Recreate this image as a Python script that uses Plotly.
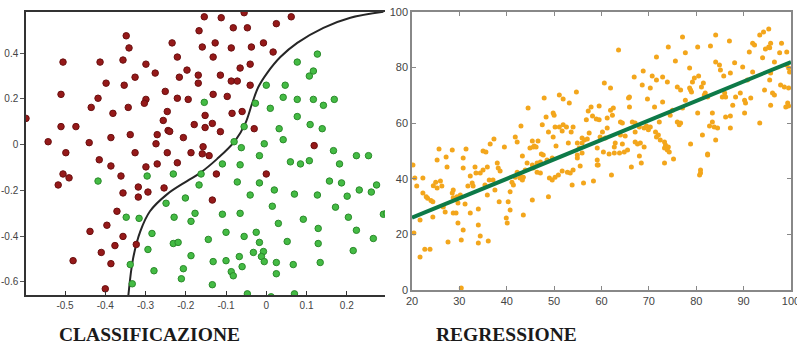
import plotly.graph_objects as go

# ---------------- Classification data ----------------
red_x = [-0.348,-0.341,-0.234,-0.167,-0.505,-0.413,-0.356,-0.299,-0.221,-0.197,-0.276,-0.326,-0.216,-0.169,-0.398,-0.353,-0.169,-0.510,-0.251,-0.418,-0.299,-0.303,-0.221,-0.194,-0.435,-0.343,-0.381,-0.246,-0.597,-0.256,-0.510,-0.473,-0.179,-0.244,-0.240,-0.386,-0.338,-0.271,-0.206,-0.542,-0.440,-0.274,-0.498,-0.326,-0.246,-0.187,-0.415,
         -0.386,-0.299,-0.271,-0.221,-0.505,-0.490,-0.517,-0.361,-0.318,-0.254,-0.356,-0.294,-0.318,-0.371,-0.396,-0.438,-0.356,-0.323,-0.376,-0.410,-0.480,-0.386,-0.400,
         -0.154,-0.112,-0.055,0.062,-0.082,-0.047,0.025,-0.127,-0.007,-0.159,-0.087,-0.037,0.017,-0.132,-0.040,-0.065,-0.114,-0.087,-0.072,-0.040,-0.132,-0.097,-0.085,-0.060,-0.152,-0.134,-0.152,-0.114,-0.030,-0.157,0.119,-0.159,-0.142,
         -0.124,0.000,-0.134]
red_y = [0.476,0.423,0.445,0.498,0.361,0.361,0.370,0.352,0.383,0.326,0.313,0.295,0.295,0.304,0.269,0.260,0.269,0.220,0.233,0.203,0.198,0.181,0.203,0.198,0.163,0.163,0.137,0.145,0.115,0.106,0.079,0.079,0.088,0.062,0.058,0.031,0.044,0.044,0.031,0.013,0.009,0.004,-0.035,-0.035,-0.035,-0.035,-0.066,
         -0.093,-0.097,-0.084,-0.079,-0.128,-0.145,-0.176,-0.137,-0.185,-0.189,-0.211,-0.207,-0.229,-0.291,-0.352,-0.379,-0.401,-0.436,-0.441,-0.471,-0.507,-0.520,-0.630,
         0.559,0.555,0.577,0.559,0.511,0.511,0.529,0.445,0.445,0.427,0.423,0.427,0.405,0.383,0.352,0.335,0.304,0.278,0.278,0.260,0.220,0.211,0.137,0.145,0.128,0.093,0.075,0.057,0.070,-0.009,-0.004,-0.040,-0.048,
         -0.128,-0.128,-0.242]

green_x = [-0.418,-0.296,-0.231,-0.167,-0.201,-0.249,-0.177,-0.348,-0.316,-0.229,-0.187,-0.284,-0.231,-0.219,-0.294,-0.187,-0.338,-0.206,-0.279,-0.211,-0.333,
           0.127,0.077,0.117,0.107,0.000,0.047,-0.154,-0.027,0.042,0.077,0.117,0.169,0.142,0.010,0.077,-0.055,0.032,0.109,0.139,0.042,-0.080,-0.062,-0.005,0.167,-0.017,0.224,0.254,
           0.060,0.085,0.107,-0.109,-0.065,0.182,-0.162,-0.072,-0.017,0.157,0.187,0.274,0.020,0.231,0.261,-0.040,0.070,0.127,0.201,0.015,0.172,-0.109,-0.065,0.291,0.299,0.092,0.204,0.030,0.129,0.224,-0.100,-0.025,-0.144,-0.055,-0.017,0.052,0.129,0.266,-0.032,-0.007,0.216,-0.067,-0.012,-0.132,-0.100,-0.005,0.025,0.067,0.134,-0.060,-0.087,-0.082,0.025,-0.134,-0.047,0.012,0.070]
green_y = [-0.159,-0.137,-0.128,-0.176,-0.233,-0.256,-0.300,-0.317,-0.322,-0.317,-0.335,-0.388,-0.432,-0.427,-0.458,-0.485,-0.524,-0.542,-0.551,-0.586,-0.608,
           0.396,0.361,0.322,0.300,0.260,0.260,0.185,0.181,0.207,0.198,0.198,0.198,0.172,0.159,0.123,0.079,0.070,0.088,0.070,0.022,0.013,-0.013,0.004,-0.026,-0.048,-0.048,-0.048,
           -0.075,-0.084,-0.070,-0.084,-0.088,-0.084,-0.128,-0.163,-0.167,-0.159,-0.167,-0.176,-0.198,-0.198,-0.207,-0.220,-0.216,-0.220,-0.225,-0.269,-0.273,-0.304,-0.300,-0.304,-0.300,-0.326,-0.317,-0.344,-0.366,-0.374,-0.383,-0.383,-0.414,-0.401,-0.427,-0.423,-0.432,-0.410,-0.471,-0.467,-0.463,-0.489,-0.489,-0.511,-0.507,-0.511,-0.515,-0.524,-0.515,-0.533,-0.555,-0.573,-0.564,-0.612,-0.652,-0.665,-0.652]

boundary_x = [-0.343,-0.331,-0.313,-0.289,-0.246,-0.197,-0.164,-0.122,-0.077,-0.052,-0.035,-0.020,0.002,0.035,0.077,0.142,0.209,0.291]
boundary_y = [-0.665,-0.498,-0.379,-0.291,-0.216,-0.159,-0.123,-0.062,0.018,0.093,0.181,0.251,0.313,0.383,0.445,0.511,0.555,0.581]

cls_xticks = [-0.5,-0.4,-0.3,-0.2,-0.1,0,0.1,0.2]
cls_yticks = [-0.6,-0.4,-0.2,0,0.2,0.4]

# ---------------- Regression data ----------------
reg_x = [54.7,51.1,51.9,53.2,47.9,44.5,59.5,57.8,57.2,49.8,50.0,48.3,58.1,58.9,56.8,47.5,43.0,50.2,51.1,51.9,52.6,54.0,51.7,48.8,53.6,57.4,41.8,49.8,55.9,56.4,57.0,37.3,42.2,45.4,46.6,53.0,54.9,55.9,36.5,39.5,45.8,44.9,45.6,46.2,50.4,25.7,28.5,31.4,35.0,35.6,59.1,55.3,27.2,30.8,43.3,47.3,54.9,
         20.2,25.3,20.6,22.3,21.0,22.3,23.3,24.0,23.0,24.5,25.0,26.0,26.3,25.3,24.4,27.4,27.0,26.6,28.5,28.7,29.5,30.2,28.7,28.7,29.3,29.7,31.2,30.8,32.3,32.7,31.8,32.9,33.3,33.5,34.4,32.3,35.0,35.9,35.4,34.0,34.4,34.0,36.1,34.0,27.6,30.4,29.7,30.8,20.4,21.7,22.7,23.8,30.4,24.4,21.7,36.3,37.1,35.9,38.0,38.2,38.6,37.5,38.4,40.7,40.3,40.7,39.9,40.1,41.1,41.4,41.8,42.8,43.5,43.3,
         42.2,43.9,42.8,43.5,45.4,44.3,45.4,46.4,47.1,46.4,47.1,45.6,47.7,48.5,49.6,48.8,49.0,49.6,50.2,50.9,51.7,52.8,53.4,53.8,54.0,55.5,54.9,55.9,59.1,59.3,56.2,58.3,
         95.3,94.2,93.4,84.1,77.1,87.0,91.9,92.3,95.7,95.3,94.6,95.5,98.0,74.1,80.3,83.0,63.6,91.2,77.7,99.1,97.6,94.0,71.6,84.1,84.9,85.1,88.1,75.6,96.5,
         99.1,99.5,99.7,91.9,89.8,78.6,68.8,80.5,79.6,79.2,85.8,87.2,95.7,95.5,60.6,61.9,66.9,70.7,71.6,72.9,73.9,68.6,70.3,76.0,76.7,78.6,78.8,79.0,81.5,81.1,90.8,97.8,98.6,94.4,96.1,96.5,99.5,
         65.9,65.7,69.7,72.9,77.7,81.9,82.4,81.7,86.0,86.2,85.5,89.3,88.3,90.2,90.4,91.5,95.7,99.3,98.9,99.5,61.9,62.5,62.3,65.9,71.2,75.0,74.5,77.1,87.7,80.3,83.4,86.2,87.2,90.2,
         59.5,61.2,66.5,67.1,68.0,64.0,64.4,69.5,69.9,69.0,70.3,72.2,76.0,76.4,76.7,83.4,82.8,83.8,84.5,87.2,93.4,61.2,60.2,64.0,65.0,67.1,71.4,72.0,71.6,81.3,84.1,78.8,59.7,60.8,
         62.9,64.4,62.7,67.1,67.6,68.2,69.0,72.4,73.3,73.5,74.1,73.3,60.4,61.6,62.7,63.8,64.8,65.5,68.0,73.9,74.3,82.4,
         59.1,62.1,66.3,68.4,73.3,75.2,80.9,80.9,80.7,82.4]
reg_y = [71.2,70.1,68.7,67.3,69.1,65.5,66.2,65.8,64.4,63.7,62.9,62.2,62.6,61.5,61.2,59.4,59.0,58.6,58.6,59.4,58.6,58.6,57.2,56.8,56.8,56.5,55.0,55.0,54.7,54.0,54.3,54.3,53.2,53.6,53.6,52.9,52.9,52.9,52.5,51.4,51.8,51.1,51.4,51.4,51.8,50.7,50.4,50.7,50.0,49.6,51.1,51.1,47.8,47.5,48.2,48.9,48.6,
         45.0,46.8,40.3,40.3,37.4,34.9,33.0,32.2,33.5,37.5,38.8,39.2,37.4,36.7,31.7,44.2,28.1,29.9,34.9,33.2,33.5,34.2,36.0,27.7,27.7,31.3,30.9,43.9,41.0,38.5,37.4,37.4,44.2,42.1,42.1,27.7,43.2,44.2,37.8,23.4,19.4,29.1,17.6,16.9,17.3,18.0,24.1,21.6,20.5,11.9,14.7,14.7,0.7,26.3,25.2,39.6,39.6,34.2,45.7,43.9,42.8,36.0,31.7,35.3,31.7,28.8,25.9,24.1,38.8,37.8,40.6,40.3,40.6,39.6,
         42.4,43.2,41.7,27.0,32.4,45.7,45.0,45.7,46.0,42.4,42.1,43.9,48.6,46.8,47.5,33.5,40.3,39.6,40.6,41.4,42.8,42.4,42.1,37.8,43.2,44.6,47.5,49.3,46.8,45.0,38.5,39.2,
         93.9,92.8,91.7,91.7,91.0,89.6,88.8,88.1,88.8,87.4,86.7,87.1,88.8,87.4,87.4,87.8,86.3,85.6,85.3,85.6,85.3,83.5,83.8,82.0,80.9,79.1,81.7,82.4,82.0,
         80.9,79.9,78.4,78.4,80.2,79.9,78.8,77.0,76.3,74.8,77.0,78.1,78.1,75.5,74.5,72.7,76.6,77.0,75.5,76.6,74.8,73.7,72.7,73.0,71.9,72.7,71.9,71.2,74.5,73.0,75.5,73.7,73.0,71.9,70.9,70.1,72.7,
         69.4,69.1,68.7,67.6,68.3,70.9,69.4,70.1,70.9,69.4,69.4,70.9,69.4,68.3,67.3,69.1,66.5,67.3,65.8,66.2,64.7,65.5,62.9,65.8,65.8,64.7,62.9,65.5,66.5,63.7,63.7,62.2,62.6,63.7,
         61.2,61.9,60.4,60.1,58.6,60.4,60.1,59.0,57.6,58.3,58.6,60.4,60.4,59.4,60.1,60.4,59.0,58.6,58.3,58.3,60.1,58.3,56.8,55.8,55.4,56.8,56.8,55.8,55.0,55.8,54.0,52.5,55.0,54.7,
         52.9,52.5,51.4,53.2,52.5,52.9,51.4,54.0,53.2,52.2,51.4,51.1,49.6,48.9,49.3,49.3,49.6,50.4,48.2,50.4,49.6,48.9,
         45.0,41.4,44.2,45.7,45.7,47.1,43.2,42.1,41.4,48.6]

fit_x = [20, 100]
fit_y = [26, 82]

reg_xticks = [20,30,40,50,60,70,80,90,100]
reg_yticks = [0,20,40,60,80,100]

fig = go.Figure()

fig.add_trace(go.Scatter(x=boundary_x, y=boundary_y, mode="lines",
                         line=dict(color="#262626", width=2, shape="spline"),
                         xaxis="x", yaxis="y", hoverinfo="skip"))
fig.add_trace(go.Scatter(x=red_x, y=red_y, mode="markers",
                         marker=dict(size=6.5, color="#951919", line=dict(color="#6b1010", width=1)),
                         xaxis="x", yaxis="y"))
fig.add_trace(go.Scatter(x=green_x, y=green_y, mode="markers",
                         marker=dict(size=6.5, color="#44bb44", line=dict(color="#2b8a2b", width=1)),
                         xaxis="x", yaxis="y"))

fig.add_trace(go.Scatter(x=reg_x, y=reg_y, mode="markers",
                         marker=dict(size=5, color="#f3a61c"),
                         xaxis="x2", yaxis="y2"))
fig.add_trace(go.Scatter(x=fit_x, y=fit_y, mode="lines",
                         line=dict(color="#0d7a48", width=4),
                         xaxis="x2", yaxis="y2"))

tickfont = dict(family="Liberation Sans, Arial, sans-serif", size=10, color="#444")
tickfont2 = dict(family="Liberation Sans, Arial, sans-serif", size=11, color="#444")

fig.update_layout(
    width=797, height=347,
    margin=dict(l=0, r=0, t=0, b=0, autoexpand=False),
    paper_bgcolor="white", plot_bgcolor="white",
    showlegend=False,
    xaxis=dict(domain=[26/797, 385/797], range=[-0.597, 0.295], automargin=False,
               tickvals=cls_xticks, ticktext=[("%g" % v) for v in cls_xticks],
               showgrid=False, zeroline=False, showline=True, linecolor="#333", linewidth=1.5,
               mirror=True, ticks="inside", ticklen=4, tickcolor="#333", tickfont=tickfont),
    yaxis=dict(domain=[52/347, 335/347], range=[-0.657, 0.58], automargin=False,
               tickvals=cls_yticks, ticktext=[("%g" % v) for v in cls_yticks],
               showgrid=False, zeroline=False, showline=True, linecolor="#333", linewidth=1.5,
               ticks="outside", ticklen=4, tickcolor="#555", tickfont=tickfont),
    xaxis2=dict(domain=[412/797, 791/797], range=[20, 100], anchor="y2", automargin=False,
                tickvals=reg_xticks, showgrid=False, zeroline=False, showline=True,
                linecolor="#888", linewidth=1.5, mirror="ticks", ticks="inside", ticklen=4,
                tickcolor="#888", tickfont=tickfont2, ticklabeloverflow="allow"),
    yaxis2=dict(domain=[57/347, 335/347], range=[0, 100], anchor="x2", automargin=False,
                tickvals=reg_yticks, showgrid=False, zeroline=False, showline=True,
                linecolor="#888", linewidth=1.5, mirror="ticks", ticks="inside", ticklen=4,
                tickcolor="#888", tickfont=tickfont2, ticklabeloverflow="allow"),
    annotations=[
        dict(text="<b>CLASSIFICAZIONE</b>", x=149/797, y=(347-334)/347, xref="paper", yref="paper",
             xanchor="center", yanchor="middle", showarrow=False,
             font=dict(family="Liberation Serif, serif", size=19.5, color="#1a1a1a")),
        dict(text="<b>REGRESSIONE</b>", x=507/797, y=(347-334)/347, xref="paper", yref="paper",
             xanchor="center", yanchor="middle", showarrow=False,
             font=dict(family="Liberation Serif, serif", size=19.5, color="#1a1a1a")),
    ],
)

fig.write_html("out.html", config={"displayModeBar": False},
               post_script="document.body.style.margin='0';document.body.style.overflow='hidden';")
